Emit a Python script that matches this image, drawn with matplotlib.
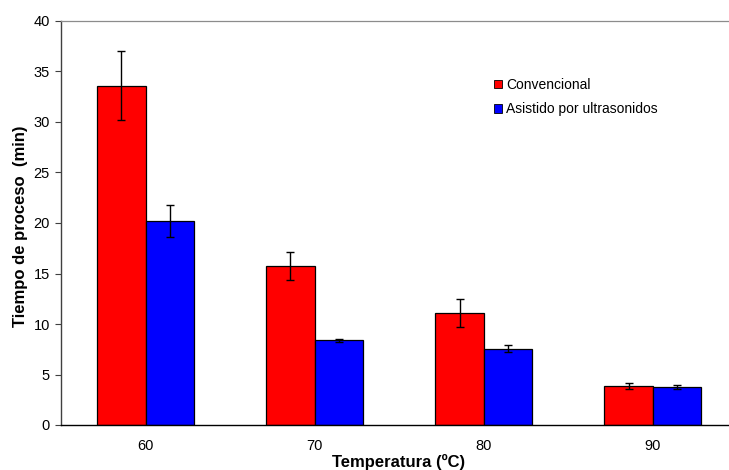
import matplotlib
matplotlib.use("Agg")
import matplotlib.pyplot as plt
import numpy as np

plt.rcParams['font.family'] = ['Liberation Sans', 'DejaVu Sans']

categories = ["60", "70", "80", "90"]
conv = [33.6, 15.75, 11.1, 3.86]
conv_err = [3.4, 1.35, 1.4, 0.33]
ultra = [20.2, 8.38, 7.55, 3.76]
ultra_err = [1.55, 0.18, 0.35, 0.17]
series_labels = ["Convencional", "Asistido por ultrasonidos"]
yticks = [0, 5, 10, 15, 20, 25, 30, 35, 40]

W, H = 729, 470
fig = plt.figure(figsize=(W/100, H/100), dpi=100)
ax = fig.add_axes([61/W, 1-425/H, 1-61/W, (425-21)/H])

x = np.arange(len(categories))
w = 0.2866
ax.bar(x - w/2, conv, w, color='#ff0000', edgecolor='black', linewidth=0.9,
       yerr=conv_err, error_kw=dict(ecolor='black', elinewidth=1, capsize=3, capthick=1),
       label=series_labels[0], zorder=2)
ax.bar(x + w/2, ultra, w, color='#0000ff', edgecolor='black', linewidth=0.9,
       yerr=ultra_err, error_kw=dict(ecolor='black', elinewidth=1, capsize=3, capthick=1),
       label=series_labels[1], zorder=2)

ax.set_xlim(-0.5, 3.45)
ax.set_ylim(0, 40)
ax.set_yticks(yticks)
ax.set_xticks(x)
ax.set_xticklabels(categories)
ax.tick_params(axis='x', length=0, pad=10, labelsize=10.5)
ax.tick_params(axis='y', direction='out', length=4, width=0.8, color='#404040', pad=4, labelsize=10.5)

ax.spines['right'].set_visible(False)
ax.spines['top'].set_color('#8c8c8c')
ax.spines['top'].set_linewidth(0.9)
ax.spines['left'].set_color('#404040')
ax.spines['left'].set_linewidth(1.0)
ax.spines['bottom'].set_color('black')
ax.spines['bottom'].set_linewidth(1.0)

fig.text(399/W, 1-466.5/H, "Temperatura (ºC)", ha='center', va='baseline',
         fontsize=12, fontweight='bold')
fig.text(20.5/W, 1-226/H, "Tiempo de proceso  (min)", ha='center', va='center',
         rotation=90, fontsize=12, fontweight='bold')

leg = ax.legend(loc='upper left', bbox_to_anchor=(494/W, 1-78/H),
                bbox_transform=fig.transFigure, frameon=False, fontsize=10,
                handlelength=0.58, handleheight=0.58, handletextpad=0.3,
                labelspacing=0.75, borderpad=0, borderaxespad=0)
for p in leg.get_patches():
    p.set_linewidth(0.6)

fig.savefig("out.png", dpi=100)
